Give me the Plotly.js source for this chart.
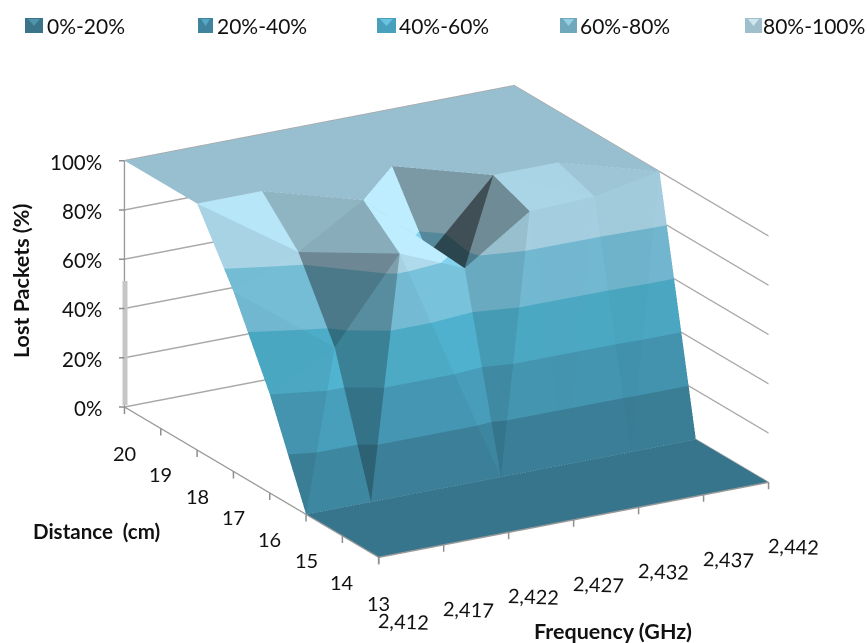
<!DOCTYPE html>
<html><head><meta charset="utf-8">
<script src="https://cdn.plot.ly/plotly-3.0.1.min.js"></script>
<style>html,body{margin:0;padding:0;background:#fff}#c{width:867px;height:643px}</style>
</head><body><div id="c"></div>
<script>
const frequencies=[2.412,2.417,2.422,2.427,2.432,2.437,2.442];
const frequencyLabels=['2,412','2,417','2,422','2,427','2,432','2,437','2,442'];
const distances=[13,14,15,16,17,18,19,20];
const d13=[0,0,0,0,0,0,0];
const d14=[0,0,0,0,0,0,0];
const d15=[0,0,0,0,0,0,0];
const d16=[40,54,87,76,94,95,100];
const d17=[73,84,100,73,100,100,100];
const d18=[100,100,100,100,100,100,100];
const d19=[100,100,100,100,100,100,100];
const d20=[100,100,100,100,100,100,100];
const lostRows=[d13,d14,d15,d16,d17,d18,d19,d20];
const zTicks=[0,20,40,60,80,100];
const zLabels=['0%','20%','40%','60%','80%','100%'];
const legendLabels=['0%-20%','20%-40%','40%-60%','60%-80%','80%-100%'];
const bandColors=[[58,127,151],[68,149,176],[75,168,195],[114,184,208],[165,207,224]];
const legendColors=['#3a7488','#3f839c','#49a0bd','#6fa8bc','#9fbfcc'];
const legendGlow=['#4f94aa','#54a8c4','#68c4e0','#94cfe4','#cfe6ee'];
const legendX0=[25,198,377,560,745];
const legendX1=[43,213,396,577,762];
const legendTextX=[45,215,397,578,761];
const aspect={x:1.396,y:1.596,z:0.814};
const lightDir=[0.35,-0.6,0.72];

const nx=frequencies.length, ny=distances.length;
const X=[],Y=[],Z=[],I=[],J=[],K=[],faceColors=[];
const vert=p=>{X.push(p[0]);Y.push(p[1]);Z.push(p[2]);return X.length-1;};
const sx=aspect.x/(frequencies[nx-1]-frequencies[0]), sy=aspect.y/(distances[ny-1]-distances[0]), sz=aspect.z/100;
function shade(a,b,c){
  const u=[(b[0]-a[0])*sx,(b[1]-a[1])*sy,(b[2]-a[2])*sz], v=[(c[0]-a[0])*sx,(c[1]-a[1])*sy,(c[2]-a[2])*sz];
  const n=[u[1]*v[2]-u[2]*v[1],u[2]*v[0]-u[0]*v[2],u[0]*v[1]-u[1]*v[0]];
  const m=Math.hypot(n[0],n[1],n[2]);
  const nl=(n[0]*lightDir[0]+n[1]*lightDir[1]+n[2]*lightDir[2])/m;
  let f=nl/0.78;
  if(f>1)f=1+(f-1)*0.6;
  return Math.max(f,0.38);
}
function clip(poly,limit,keepAbove){
  const out=[];
  for(let q=0;q<poly.length;q++){
    const p=poly[q],r=poly[(q+1)%poly.length];
    const pin=keepAbove?p[2]>=limit:p[2]<=limit, rin=keepAbove?r[2]>=limit:r[2]<=limit;
    if(pin)out.push(p);
    if(pin!==rin){const t=(limit-p[2])/(r[2]-p[2]);out.push([p[0]+t*(r[0]-p[0]),p[1]+t*(r[1]-p[1]),limit]);}
  }
  return out;
}
function addTriangle(a,b,c){
  const f=shade(a,b,c);
  bandColors.forEach((col,n)=>{
    const lo=n*20,hi=(n+1)*20;
    const poly=clip(clip([a,b,c],lo,true),hi,false);
    if(poly.length<3)return;
    const zs=poly.map(p=>p[2]);
    if(Math.max(...zs)-Math.min(...zs)<1e-9&&!(a[2]===b[2]&&b[2]===c[2]))return;
    if(a[2]===b[2]&&b[2]===c[2]&&n!==Math.min(4,Math.floor(a[2]/20)))return;
    const rgb='rgb('+col.map(v=>Math.min(255,Math.round(v*f))).join(',')+')';
    const ids=poly.map(vert);
    for(let q=1;q<ids.length-1;q++){I.push(ids[0]);J.push(ids[q]);K.push(ids[q+1]);faceColors.push(rgb);}
  });
}
const pt=(c,r)=>[frequencies[c],distances[r],lostRows[r][c]];
for(let r=0;r<ny-1;r++)for(let c=0;c<nx-1;c++){
  const a=pt(c,r),b=pt(c+1,r),e=pt(c+1,r+1),d=pt(c,r+1);
  if(a[2]+e[2]>=b[2]+d[2]){addTriangle(a,b,e);addTriangle(a,e,d);}
  else{addTriangle(a,b,d);addTriangle(b,e,d);}
}

const FONT='Lato, "Open Sans", sans-serif';
const TICKC='#8f8f8f';
const anns=[];
const tick=(x,y,z,ax,ay)=>anns.push({x,y,z,text:' ',showarrow:true,arrowhead:0,arrowwidth:1.5,arrowcolor:TICKC,ax,ay,standoff:0,font:{size:1}});
frequencies.forEach(f=>tick(f,13,0,0,9));
distances.forEach(d=>tick(2.412,d,0,0,9));
zTicks.forEach(z=>tick(2.412,20,z,-7,0));
frequencyLabels.forEach((t,n)=>anns.push({x:frequencies[n],y:13,z:0,text:t,showarrow:false,xshift:25,yshift:-64,textangle:2,font:{family:FONT,size:20,color:'#111'}}));
distances.forEach((d,n)=>anns.push({x:2.412,y:d,z:0,text:String(d),showarrow:false,xshift:0,yshift:-46,font:{family:FONT,size:20,color:'#111'}}));
zTicks.forEach((z,n)=>anns.push({x:2.412,y:20,z:z,text:zLabels[n],showarrow:false,xanchor:'right',xshift:-20,yshift:-1,font:{family:FONT,size:20.5,color:'#111'}}));

const paper=[];
const note=(x,y,text,size,extra)=>paper.push(Object.assign({xref:'paper',yref:'paper',x:x/867,y:1-y/643,xanchor:'center',yanchor:'middle',text,showarrow:false,font:{family:FONT,size,color:'#111'}},extra||{}));
legendLabels.forEach((t,n)=>note(legendTextX[n],25,t,21,{xanchor:'left'}));
note(21,281,'<b>Lost Packets (%)</b>',21.5,{textangle:-90});
note(96.5,531,'<b>Distance&nbsp;&nbsp;(cm)</b>',20.5);
note(613,631,'<b>Frequency (GHz)</b>',21.5);
const shapes=[];
const px=v=>v/867, py=v=>1-v/643;
legendColors.forEach((col,n)=>{
  const a=legendX0[n],b=legendX1[n],m=(a+b)/2;
  shapes.push({type:'rect',xref:'paper',yref:'paper',x0:px(a),x1:px(b),y0:py(33),y1:py(18),fillcolor:col,line:{width:0}});
  shapes.push({type:'path',xref:'paper',yref:'paper',path:`M ${px(a+3)} ${py(19)} L ${px(b-3)} ${py(19)} L ${px(m)} ${py(26)} Z`,fillcolor:legendGlow[n],line:{width:0}});
});
shapes.push({type:'rect',xref:'paper',yref:'paper',x0:px(122.5),x1:px(127.5),y0:py(405),y1:py(281),fillcolor:'#c6c6c6',line:{width:0}});

const axisBase={showgrid:false,zeroline:false,showbackground:false,showline:true,linecolor:'#9a9a9a',linewidth:3,ticks:'',showticklabels:false,showspikes:false,title:{text:''}};
const data=[{type:'mesh3d',x:X,y:Y,z:Z,i:I,j:J,k:K,facecolor:faceColors,showscale:false,flatshading:true,hoverinfo:'skip',
  lighting:{ambient:1,diffuse:0,specular:0,roughness:1,fresnel:0}}];
const layout={width:867,height:643,margin:{l:0,r:0,t:0,b:0},paper_bgcolor:'#fff',showlegend:false,annotations:paper,shapes:shapes,
  scene:{domain:{x:[0.03,1],y:[0,1]},hovermode:false,
   aspectmode:'manual',aspectratio:aspect,
   camera:{projection:{type:'orthographic'},up:{x:0,y:0,z:1},center:{x:0,y:0,z:0},eye:{x:-0.932,y:-1.634,z:0.674}},
   xaxis:Object.assign({},axisBase,{range:[2.412,2.442],tickvals:frequencies}),
   yaxis:Object.assign({},axisBase,{range:[13,20],tickvals:distances}),
   zaxis:Object.assign({},axisBase,{range:[0,100],tickvals:zTicks,showgrid:true,gridcolor:'#a8a8a8',gridwidth:3}),
   annotations:anns}};
Plotly.newPlot('c',data,layout,{displayModeBar:false});
</script></body></html>
